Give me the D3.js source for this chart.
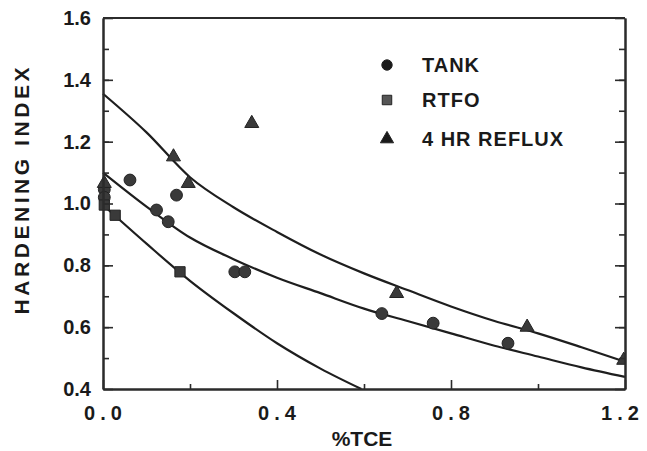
<!DOCTYPE html>
<html>
<head>
<meta charset="utf-8">
<script src="https://cdn.jsdelivr.net/npm/d3@7"></script>
<style>
  body { margin: 0; background: #fff; }
  svg text { font-family: "Liberation Sans", Arial, sans-serif; font-weight: bold; fill: #1a1a1a; }
</style>
</head>
<body>
<div id="chart"></div>
<script>
// measured points (x = %TCE, y = hardening index)
var tankX = [0.003, 0.003, 0.062, 0.123, 0.150, 0.169, 0.303, 0.326, 0.641, 0.759, 0.931];
var tankY = [1.045, 1.020, 1.076, 0.979, 0.941, 1.027, 0.779, 0.779, 0.644, 0.613, 0.548];

var rtfoX = [0.003, 0.028, 0.177];
var rtfoY = [0.995, 0.962, 0.779];

var refluxX = [0.003, 0.162, 0.196, 0.342, 0.675, 0.975, 1.197];
var refluxY = [1.065, 1.151, 1.065, 1.259, 0.709, 0.600, 0.493];

// fitted curves
var refluxFitX = [0, 0.1, 0.2, 0.3, 0.4, 0.5, 0.6, 0.7, 0.8, 0.9, 1.0, 1.1, 1.2];
var refluxFitY = [1.355, 1.23, 1.085, 0.988, 0.908, 0.835, 0.774, 0.72, 0.667, 0.62, 0.58, 0.535, 0.488];

var tankFitX = [0, 0.1, 0.2, 0.3, 0.4, 0.5, 0.6, 0.7, 0.8, 0.9, 1.0, 1.1, 1.2];
var tankFitY = [1.10, 0.99, 0.89, 0.82, 0.76, 0.71, 0.66, 0.62, 0.58, 0.54, 0.505, 0.47, 0.439];

var rtfoFitX = [0, 0.1, 0.2, 0.3, 0.4, 0.5, 0.594];
var rtfoFitY = [0.995, 0.87, 0.75, 0.645, 0.548, 0.466, 0.40];

var xTickLabels = [0, 0.4, 0.8, 1.2];
var yTickLabels = [0.4, 0.6, 0.8, 1.0, 1.2, 1.4, 1.6];

var legendNames = ["TANK", "RTFO", "4 HR REFLUX"];

var width = 647, height = 451;
var dark = "#2b2b2b";

var svg = d3.select("#chart")
    .append("svg")
    .attr("width", width)
    .attr("height", height);

var x = d3.scaleLinear().domain([0, 1.2]).range([103, 625]);
var y = d3.scaleLinear().domain([0.4, 1.6]).range([389, 18]);

var yMinor = d3.range(5, 16).map(function(i) { return i / 10; });
var xMinor = [0.2, 0.6, 1.0];

function styleAxis(g) {
    g.selectAll("path.domain").attr("stroke", dark).attr("stroke-width", 2);
    g.selectAll(".tick line").attr("stroke", dark).attr("stroke-width", 1.6);
    g.selectAll(".tick text").attr("fill", "#1a1a1a");
}

// fitted curves
var line = d3.line()
    .x(function(d) { return x(d[0]); })
    .y(function(d) { return y(d[1]); })
    .curve(d3.curveMonotoneX);

[[refluxFitX, refluxFitY], [tankFitX, tankFitY], [rtfoFitX, rtfoFitY]].forEach(function(c) {
    svg.append("path")
        .datum(d3.zip(c[0], c[1]))
        .attr("d", line)
        .attr("fill", "none")
        .attr("stroke", "#1e1e1e")
        .attr("stroke-width", 2.2);
});

// markers
var symCircle = d3.symbol().type(d3.symbolCircle).size(110);
var symSquare = d3.symbol().type(d3.symbolSquare).size(105);
var symTriangle = d3.symbol().type(d3.symbolTriangle).size(85);

function drawPoints(xs, ys, sym) {
    svg.append("g")
        .selectAll("path")
        .data(d3.zip(xs, ys))
        .enter()
        .append("path")
        .attr("d", sym)
        .attr("transform", function(d) {
            return "translate(" + x(d[0]) + "," + y(d[1]) + ")";
        })
        .attr("fill", "#3a3a3a")
        .attr("stroke", "#222")
        .attr("stroke-width", 1);
}

drawPoints(tankX, tankY, symCircle);
drawPoints(rtfoX, rtfoY, symSquare);
drawPoints(refluxX, refluxY, symTriangle);

// white mask right of the frame so the edge point is cut like the original
svg.append("rect")
    .attr("x", 626).attr("y", 0)
    .attr("width", 30).attr("height", 395)
    .attr("fill", "#fff");

// left axis, labels and ticks
svg.append("g")
    .attr("transform", "translate(103,0)")
    .call(d3.axisLeft(y).tickValues(yMinor).tickSize(-6).tickSizeOuter(0).tickFormat(""))
    .call(styleAxis);

svg.append("g")
    .attr("transform", "translate(103,0)")
    .call(d3.axisLeft(y).tickValues(yTickLabels).tickSize(-10).tickSizeOuter(0)
        .tickPadding(12).tickFormat(d3.format(".1f")))
    .call(styleAxis)
    .selectAll("text")
    .attr("font-size", 20)
    .attr("font-family", "Liberation Sans, Arial, sans-serif")
    .attr("font-weight", "bold");

// right axis
svg.append("g")
    .attr("transform", "translate(625,0)")
    .call(d3.axisRight(y).tickValues(yMinor).tickSize(-6).tickSizeOuter(0).tickFormat(""))
    .call(styleAxis);
svg.append("g")
    .attr("transform", "translate(625,0)")
    .call(d3.axisRight(y).tickValues(yTickLabels).tickSize(-10).tickSizeOuter(0).tickFormat(""))
    .call(styleAxis);

// bottom axis
svg.append("g")
    .attr("transform", "translate(0,389)")
    .call(d3.axisBottom(x).tickValues(xMinor).tickSize(-5).tickSizeOuter(0).tickFormat(""))
    .call(styleAxis);

svg.append("g")
    .attr("transform", "translate(0,389)")
    .call(d3.axisBottom(x).tickValues(xTickLabels).tickSize(-9).tickSizeOuter(0)
        .tickPadding(17).tickFormat(d3.format(".1f")))
    .call(styleAxis)
    .selectAll("text")
    .attr("font-size", 20)
    .attr("font-family", "Liberation Sans, Arial, sans-serif")
    .attr("font-weight", "bold")
    .attr("letter-spacing", "5px")
    .attr("dx", function(d) { return d == 1.2 ? -3 : 2; });

// top border
svg.append("line")
    .attr("x1", x(0)).attr("x2", x(1.2))
    .attr("y1", y(1.6)).attr("y2", y(1.6))
    .attr("stroke", dark).attr("stroke-width", 2);

// axis titles
svg.append("text")
    .attr("x", 362)
    .attr("y", 446)
    .attr("text-anchor", "middle")
    .attr("font-size", 21)
    .text("%TCE");

svg.append("text")
    .attr("transform", "translate(29,191) rotate(-90)")
    .attr("text-anchor", "middle")
    .attr("font-size", 21)
    .attr("textLength", 247)
    .attr("lengthAdjust", "spacing")
    .text("HARDENING  INDEX");

// legend
var legendSyms = [
    d3.symbol().type(d3.symbolCircle).size(85),
    d3.symbol().type(d3.symbolSquare).size(90),
    d3.symbol().type(d3.symbolTriangle).size(75)
];
var legendY = [65, 100, 139];

legendNames.forEach(function(name, i) {
    svg.append("path")
        .attr("d", legendSyms[i])
        .attr("transform", "translate(387," + legendY[i] + ")")
        .attr("fill", i == 1 ? "#555" : "#1a1a1a")
        .attr("stroke", "#222");
    svg.append("text")
        .attr("x", 422)
        .attr("y", legendY[i] + 7)
        .attr("font-size", 20)
        .attr("letter-spacing", "1px")
        .text(name);
});
</script>
</body>
</html>
